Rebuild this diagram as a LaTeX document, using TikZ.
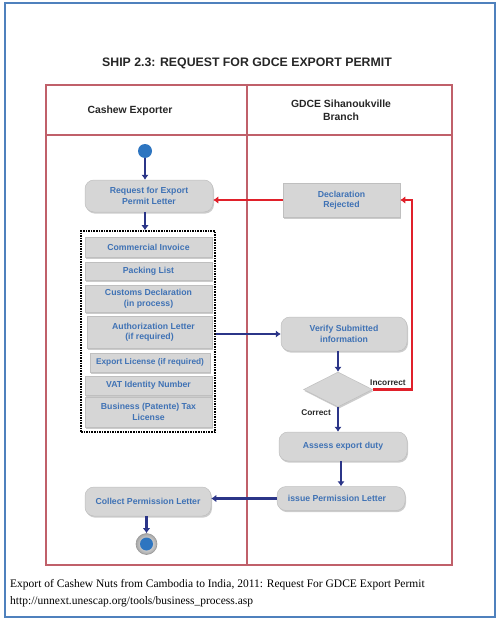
\documentclass[tikz,border=0pt]{standalone}
\usepackage{fontspec}
\setmainfont{Liberation Serif}
\newfontfamily\arial{Liberation Sans}
\usetikzlibrary{shapes.geometric,arrows.meta,shadows}
\definecolor{frameblue}{HTML}{4F81BD}
\definecolor{lanered}{HTML}{C0606A}
\definecolor{boxgrey}{HTML}{D6D6D6}
\definecolor{txtblue}{HTML}{3F72B5}
\definecolor{navy}{HTML}{2B3588}
\definecolor{errred}{HTML}{E0202A}
\definecolor{dotblue}{HTML}{2E75C0}
\tikzset{
  boxbase/.style={fill=boxgrey, draw=gray!50, line width=0.5pt, inner sep=1pt,
    align=center, text=txtblue, font=\arial\bfseries\fontsize{8.7}{10.5}\selectfont,
    drop shadow={shadow xshift=1pt, shadow yshift=-1.6pt, opacity=0.4}},
  actbox/.style={boxbase, rounded corners=9pt},
  docbox/.style={boxbase},
  arr/.style={draw=navy, line width=2.7pt, -{Latex[length=5pt,width=7.5pt]}},
  redarr/.style={draw=errred, line width=2.6pt, -{Latex[length=5pt,width=7.5pt]}},
  lane/.style={draw=lanered, line width=2pt},
  hdr/.style={align=center, font=\arial\bfseries\fontsize{10.4}{13}\selectfont, text=black!85},
  guard/.style={font=\arial\bfseries\fontsize{8.3}{9}\selectfont, text=black!85, inner sep=0pt},
}
\begin{document}
\begin{tikzpicture}[x=1pt,y=-1pt]
\useasboundingbox (0,0) rectangle (497,623);
% outer frame
\draw[draw=frameblue, line width=2pt] (5,3) rectangle (495,617);
% title
\node[font=\arial\bfseries\fontsize{12.3}{14}\selectfont, text=black!85] (title) at (247,63) {SHIP 2.3: REQUEST FOR GDCE EXPORT PERMIT};
% swimlanes
\draw[lane] (46,85) rectangle (452,565);
\draw[lane] (46,135) -- (452,135);
\draw[lane] (247,84) -- (247,565);
\node[hdr] (h1) at (130,111) {Cashew Exporter};
\node[hdr] (h2) at (341,110) {GDCE Sihanoukville\\Branch};
% start
\node[circle, fill=dotblue, minimum size=14pt, inner sep=0pt] (start) at (145,151) {};
% exporter lane
\node[actbox, minimum width=128pt, minimum height=32pt] (request) at (149,196) {Request for Export\\Permit Letter};
\node[draw=black, line width=1.6pt, dash pattern=on 1.6pt off 1pt, minimum width=134pt, minimum height=201pt, inner sep=0pt] (docs) at (148,331.5) {};
\node[docbox, minimum width=127pt, minimum height=20pt] (ci) at (148.5,247) {Commercial Invoice};
\node[docbox, minimum width=127pt, minimum height=18pt] (pl) at (148.5,271) {Packing List};
\node[docbox, minimum width=127pt, minimum height=27pt] (cd) at (148.5,298.5) {Customs Declaration\\(in process)};
\node[docbox, minimum width=125pt, minimum height=32pt] (al) at (149.5,332) {\hspace*{8pt}Authorization Letter\\(if required)};
\node[docbox, minimum width=120pt, minimum height=19pt, font=\arial\bfseries\fontsize{8.3}{10}\selectfont] (el) at (150,362.5) {Export License (if required)};
\node[docbox, minimum width=127pt, minimum height=19pt] (vat) at (148.5,385.5) {VAT Identity Number};
\node[docbox, minimum width=127pt, minimum height=30pt] (bt) at (148.5,412) {Business (Patente) Tax\\License};
\node[actbox, minimum width=126pt, minimum height=29pt] (collect) at (148,501.5) {Collect Permission Letter};
% end
\node[circle, shade, inner color=white, outer color=gray!70, draw=gray!80, line width=0.6pt, minimum size=21pt, inner sep=0pt] (end) at (146.5,544) {};
\node[circle, fill=dotblue, minimum size=13pt, inner sep=0pt] (endin) at (end.center) {};
% GDCE lane
\node[docbox, minimum width=117pt, minimum height=34pt] (rej) at (341.5,200) {Declaration\\Rejected};
\node[actbox, minimum width=126pt, minimum height=34pt] (verify) at (344,334) {Verify Submitted\\information};
\node[diamond, fill=boxgrey, draw=gray!50, line width=0.5pt, minimum width=69pt, minimum height=35pt, inner sep=0pt,
  drop shadow={shadow xshift=1pt, shadow yshift=-1.6pt, opacity=0.4}] (dec) at (338,389.5) {};
\node[actbox, minimum width=128pt, minimum height=29pt] (assess) at (343,446.5) {Assess export duty};
\node[actbox, minimum width=128pt, minimum height=24pt] (issue) at (341,498.5) {\hspace*{-8pt}issue Permission Letter};
\node[guard, anchor=south west] (lbad) at (370,386) {Incorrect};
\node[guard, anchor=north east] (lok) at (331,409) {Correct};
% connectors
\draw[arr] (start.south) -- (start.south |- request.north);
\draw[arr] (start.south |- request.south) -- (start.south |- docs.north);
\draw[arr] (docs.east |- verify.west) -- (verify.west);
\draw[arr] (dec.north |- verify.south) -- (dec.north);
\draw[arr] (dec.south) -- (dec.south |- assess.north);
\draw[arr] (assess.south -| 341,0) -- (issue.north);
\draw[arr] (issue.west) -- (issue.west -| collect.east);
\draw[arr] (end.north |- collect.south) -- (end.north);
\draw[redarr] (rej.west) -- (rej.west -| request.east);
\coordinate (rc) at (412,0);
\draw[redarr] (dec.east) -- (dec.east -| rc) |- (rej.east);
% caption
\node[anchor=base west, inner sep=0pt, font=\fontsize{11.5}{17}\selectfont] (cap1) at (10,587) {Export of Cashew Nuts from Cambodia to India, 2011: Request For GDCE Export Permit};
\node[anchor=base west, inner sep=0pt, font=\fontsize{11.5}{17}\selectfont] (cap2) at (10,604) {http://unnext.unescap.org/tools/business\_process.asp};
\end{tikzpicture}
\end{document}
